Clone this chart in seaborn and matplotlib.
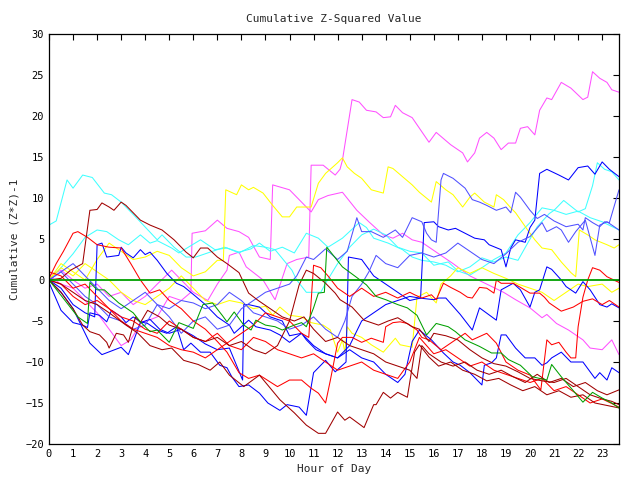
import pandas as pd
import matplotlib
matplotlib.use("Agg")
from matplotlib import pyplot as plt
import seaborn as sns

# (hour, cumulative value) pairs, one list per trace
magenta_a = [(0,0.5),(0.5,1.2),(1,0),(1.5,-1),(2,-0.5),(2.5,-2),(3,-1.5),(3.5,-3),(4,-2),(4.5,-0.5),(5.1,1.2),(5.5,0),(6,-1.5),(6.6,-2.5),(7,-0.5),(7.4,1.2),(7.5,3.0),(7.9,3.4),(8.2,1.6),(8.9,0),(9.4,-2.4),(9.9,2),(10.3,2.5),(10.8,2.8),(10.9,14),(11.4,14),(11.9,12.8),(12.1,13.5),(12.2,14.6),(12.6,22),(12.9,21.7),(13.2,20.7),(13.6,20.5),(13.9,19.8),(14.2,19.9),(14.4,21.3),(14.7,20.4),(15.1,19.8),(15.8,16.8),(16.1,18),(16.7,16.5),(17.2,15.5),(17.4,14.4),(17.7,15.5),(17.9,17.3),(18.2,18),(18.5,17.3),(18.8,15.9),(19.1,16.7),(19.4,16.7),(19.6,18.5),(19.9,18.7),(20.2,17.7),(20.4,20.7),(20.7,22.2),(20.9,22),(21.3,24.1),(21.7,23.4),(22.2,22),(22.4,22.3),(22.6,25.4),(22.9,24.6),(23.2,24.1),(23.4,23.2),(23.7,22.9)]
magenta_b = [(0,0.5),(0.5,-0.5),(1,-1),(1.5,-2.5),(2,-4),(2.5,-6),(3,-8),(3.4,-7.3),(3.8,-5.3),(4.5,-4.5),(5,-2),(5.5,-2.5),(5.9,-1.5),(5.95,5.7),(6.5,6.0),(7,7.3),(7.4,6.3),(7.9,5.9),(8.3,5.2),(8.75,2.8),(9.2,2.5),(9.3,11.6),(10,11),(10.9,8.3),(11.2,9.8),(11.6,10.3),(12.2,10.7),(12.8,8.5),(13.3,7.1),(13.9,5.5),(14.3,5.1),(14.7,5.7),(15.1,4.9),(15.5,4.6),(16.2,3.2),(16.8,2),(17.5,0.5),(18.2,-0.5),(18.9,-1.5),(19.4,-2.4),(20,-3.4),(20.5,-4.6),(20.7,-4.2),(21.1,-5.3),(21.6,-6.1),(22.2,-7.3),(22.5,-8.3),(23,-8.5),(23.4,-7.3),(23.7,-9.1)]
cyan_a = [(0,6.7),(0.3,7.2),(0.75,12.2),(1,11.2),(1.4,12.8),(1.8,12.5),(2.3,10.6),(2.6,10.4),(3,9.5),(3.6,7.7),(4.5,4.9),(4.7,5.5),(5.2,4),(5.7,2.8),(6.1,2.8),(7,3.7),(7.3,4),(7.9,3.4),(8.4,3.8),(8.75,4.5),(9.2,3.5),(9.7,4),(10.2,3.3),(10.7,5.7),(11.2,5.1),(11.6,4),(12.2,5.1),(12.9,7),(13.2,6.4),(13.5,5.1),(14.1,4.5),(14.7,3.7),(15.1,2.8),(15.5,2.4),(16,2.2),(16.5,1.8),(17,1),(17.5,1.6),(18,2.7),(18.5,2.2),(19,2.8),(19.5,2.4),(20,5),(20.3,6.5),(20.8,8.1),(21,8.5),(21.4,9.7),(22,8.3),(22.3,8.7),(22.6,11.5),(22.8,14.3),(23.1,13.5),(23.4,13.2),(23.7,12.2)]
cyan_b = [(0,0),(0.5,1.5),(1,3.2),(1.5,5.2),(2,6.1),(2.4,5.9),(2.9,4.9),(3.3,4.3),(3.8,5.5),(4.2,4.5),(4.5,4.8),(5.1,3.9),(5.4,3.3),(6.3,4.9),(6.9,3.7),(7.4,3.9),(7.9,3.3),(8.5,4.2),(9,4),(9.4,3.7),(10.1,1.2),(10.3,0),(10.7,-1.5),(11.3,-1.5),(11.5,-0.4),(12,2),(12.5,4),(13,5.5),(13.5,6.2),(14,5.5),(14.5,4),(15,3.5),(15.5,3.3),(16,1.8),(16.6,2.2),(17,1.1),(17.5,0.6),(18,1.5),(18.5,2.5),(19,3.3),(19.5,5.5),(20,7),(20.5,8.8),(21,8.5),(21.5,8),(22,8.4),(22.5,7.6),(23,7.1),(23.7,6.1)]
yellow_a = [(0,0),(0.5,2),(1,1),(1.5,0),(2,2.5),(2.5,4.5),(3,3.5),(3.5,2.5),(4,2.8),(4.5,3.5),(5,3),(5.5,1.5),(6,0.5),(6.5,1),(7,2.4),(7.25,2.4),(7.35,11),(7.8,10.4),(8,11.6),(8.3,11),(8.5,11.3),(8.9,10.6),(9.3,9.1),(9.7,7.7),(10,7.7),(10.3,8.9),(10.9,8.9),(11.2,11.8),(11.5,13),(12,14.3),(12.2,14.9),(12.4,13.8),(12.7,13),(13,12.4),(13.4,11),(13.9,10.6),(14.1,13.8),(14.3,13.6),(14.7,12.6),(15.1,11.6),(15.4,10.7),(15.9,9.5),(16.1,12),(16.5,11),(16.8,10.4),(17.2,8.9),(17.5,10.1),(17.7,10.6),(18.1,9.5),(18.5,8.9),(18.6,10.4),(18.9,9.8),(19.2,8.8),(19.4,8.2),(19.9,6.1),(20.2,4.9),(20.5,3.9),(20.9,3.7),(21.3,2.2),(21.7,0.9),(21.9,0.4),(22.05,6.1),(22.4,5.5),(22.7,4.9),(23.2,4.3),(23.5,3.9),(23.7,4.3)]
yellow_b = [(0,0),(0.5,1.5),(1,0.5),(1.5,2),(2,1),(2.5,0),(3,-1.5),(3.5,-2.5),(4,-3),(4.5,-2),(5,-1),(5.5,0.5),(6,-1),(6.5,-2.5),(7,-3),(7.5,-2.5),(8,-2.8),(8.5,-3.5),(9,-3.2),(9.3,-4.3),(9.6,-3.3),(10,-4.3),(10.5,-4.5),(10.9,-5.2),(11.4,-5.5),(11.7,-6.1),(12,-8.8),(12.2,-7.3),(12.3,-8.8),(12.4,-5.7),(12.6,-6.5),(13,-7),(13.4,-7.9),(13.9,-8.8),(14.4,-7.1),(14.6,-7.9),(15.1,-8.2),(15.3,-2.1),(15.7,-1.5),(16.1,-2.8),(16.3,-0.5),(16.7,0.5),(17,1.5),(17.5,0.8),(18,1.5),(18.5,0.8),(19,0.2),(19.5,-0.5),(20,-1),(20.5,-1.5),(21,-2.5),(21.5,-1.5),(22,-0.5),(22.4,-0.8),(23,-0.5),(23.4,-1.5),(23.7,-1)]
blue_a = [(0,-0.3),(0.5,-3.7),(1,-5.2),(1.4,-5.5),(1.6,-5.8),(1.7,-4),(2.1,-4.3),(2.4,-5.1),(2.6,-3.7),(3,-4.5),(3.2,-5.2),(3.5,-4.5),(3.8,-5.1),(4.1,-5.3),(4.5,-6.1),(4.9,-6.5),(5.3,-5.7),(5.6,-8.5),(5.9,-7.7),(6.3,-8.8),(6.7,-8.8),(7.1,-10.4),(7.4,-10.7),(7.6,-11.8),(7.9,-13),(8.3,-12.8),(8.75,-13.8),(9.1,-15),(9.6,-15.9),(9.9,-15.2),(10.4,-15.5),(10.7,-16.5),(11,-11.3),(11.5,-9.8),(11.9,-11.2),(12.35,-10),(12.45,2.8),(13,2.5),(13.5,0.5),(14,-0.5),(14.5,-1.5),(15,-2.5),(15.45,-2.2),(15.6,7),(16,7.1),(16.2,6.5),(16.6,6.1),(16.9,6.3),(17.3,5.7),(17.7,5.1),(18.1,4.9),(18.3,4.3),(18.8,3.7),(19,1.6),(19.2,3.9),(19.4,4.9),(19.8,4.6),(20,6.4),(20.2,7.3),(20.4,13),(20.7,13.5),(21.2,12.8),(21.6,12.2),(22,13.7),(22.4,13.9),(22.7,12.9),(23,14.4),(23.3,13.5),(23.7,12.6)]
blue_b = [(0,0),(0.5,-1.5),(1,-3.5),(1.7,-7.7),(2.2,-9.1),(3,-8.2),(3.3,-9.1),(3.8,-5.2),(4.2,-4.8),(4.6,-6),(5,-6.5),(5.5,-6),(6,-6.8),(6.5,-7.8),(7,-8.5),(7.5,-8.3),(8.05,-12.2),(8.1,-3),(8.3,-3),(8.75,-3.3),(9.2,-4.5),(9.7,-5),(10,-6.8),(10.5,-6.5),(11,-8),(11.5,-9),(12,-9.5),(12.5,-8.5),(13,-9.5),(13.5,-10),(14,-11.5),(14.5,-12.5),(14.8,-11.5),(15.1,-7.5),(15.4,-6.1),(15.9,-7.3),(16.4,-8.9),(16.8,-10),(17.1,-10.4),(17.5,-11.3),(18,-12.8),(18.1,-10.4),(18.4,-10.1),(18.6,-9.5),(18.8,-6.7),(19,-6.7),(19.4,-8.3),(19.8,-9.5),(20.2,-9.5),(20.5,-10.4),(20.7,-10.1),(20.9,-9.5),(21.3,-8.8),(21.7,-10),(22.2,-10),(22.7,-12),(22.9,-11.3),(23.2,-12.2),(23.4,-10.7),(23.7,-11.3)]
blue_c = [(0,0),(0.5,-1),(1,-3),(1.5,-4),(1.9,-4.5),(2,4.3),(2.2,4.5),(2.4,2.8),(2.9,3),(3,4),(3.2,3.3),(3.5,2.7),(3.8,3.7),(4,3.1),(4.2,3.4),(4.5,2.4),(4.9,0.8),(5.3,-0.4),(5.6,-0.8),(6.1,-2),(6.5,-3),(7,-4.5),(7.5,-5.5),(7.7,-6.5),(8.3,-4.9),(8.6,-5.7),(9.2,-6.1),(9.6,-6.7),(10,-7.6),(10.5,-6.5),(10.7,-7.3),(11.1,-8.5),(11.5,-9),(12,-9.5),(12.5,-8),(13,-5),(13.5,-4),(14,-3),(14.5,-2.5),(15,-2),(15.4,-2.2),(16,-2.4),(16.2,-2.2),(16.5,-2.2),(17.1,-4.2),(17.6,-6.1),(17.9,-3.4),(18.6,-4.9),(18.8,-1.2),(19.3,-0.4),(19.6,-1.2),(20,-3.3),(20.2,-1.5),(20.4,-1.2),(20.7,1.6),(20.9,1.3),(21.3,0),(21.5,-0.8),(21.9,-1.6),(22.2,-0.2),(22.5,-1.2),(22.9,-3),(23.2,-3.3),(23.4,-2.9),(23.7,-3.4)]
slate_a = [(0,0),(0.5,1),(1,-0.5),(1.5,-2),(2,-3),(2.5,-4.5),(3,-5),(3.5,-6),(4,-5.5),(4.5,-3),(5,-4.5),(5.5,-6.5),(6,-5),(6.5,-4.5),(7,-6),(7.5,-5.5),(8,-3.5),(8.5,-2.5),(9,-1.5),(9.5,-1),(10,-0.5),(10.3,0.5),(10.7,2.8),(11,2.5),(11.5,3.8),(12,2.5),(12.4,3.5),(12.8,7.6),(13,5.9),(13.4,5.9),(13.9,5.2),(14.4,6.1),(14.7,5.2),(15.1,7.6),(15.5,7.1),(15.7,5.7),(15.9,4.9),(16.1,4.6),(16.3,12.2),(16.4,13),(16.8,12.4),(17.3,11.2),(17.6,9.8),(17.9,9.5),(18.2,9.1),(18.6,8.5),(19,8.9),(19.2,8.2),(19.4,10.7),(19.6,10.1),(20,8.5),(20.3,7.5),(20.6,8),(21,7.2),(21.5,6.5),(22,6.8),(22.2,6.1),(22.3,7.6),(22.6,7),(22.9,6.5),(23.1,7.1),(23.3,7),(23.6,10),(23.7,11)]
slate_b = [(0,0),(0.5,1),(1,2),(1.5,0.5),(2,-1),(2.5,-2.5),(3,-3.5),(3.5,-2.5),(4,-1.5),(4.5,-3),(5,-3.5),(5.5,-2.5),(6,-2.8),(6.5,-3.5),(7,-3),(7.5,-1.5),(8,-2.5),(8.5,-4),(9,-4.5),(9.5,-5),(10,-6),(10.5,-5.5),(11,-4.5),(11.5,-6),(12,-7),(12.3,-5),(12.6,-2),(13,-0.5),(13.3,1),(13.6,3),(14,2),(14.5,1.5),(15,3),(15.5,3.3),(16,2.8),(16.5,3.3),(17,4.5),(17.5,3.5),(18,2.5),(18.5,2),(19,3.2),(19.5,4.6),(20,5.3),(20.5,7),(20.7,5.9),(21.1,6.5),(21.3,6.1),(21.6,4.6),(21.9,5.9),(22.3,7.3),(22.7,3),(22.9,6.7),(23.2,7.1),(23.7,6.1)]
red_a = [(0,0.2),(0.3,2),(0.6,3.5),(1,5.7),(1.2,5.9),(1.6,5.2),(2,4.3),(2.5,4),(3,3.9),(3.4,2),(3.8,0),(4.2,-1.6),(4.6,-1.2),(5,-2.5),(5.5,-3.5),(6,-5),(6.5,-6),(7,-7.5),(7.4,-8.8),(7.9,-11.3),(8.3,-12),(8.75,-11.6),(9.5,-13),(10,-12.2),(10.5,-12.2),(10.9,-13.2),(11.2,-13.8),(11.5,-15),(11.7,-12.2),(12,-7.7),(12.2,-7),(12.6,-7),(13,-7.6),(13.4,-7.1),(13.9,-7.6),(14,-5.7),(14.3,-5.2),(14.6,-5.1),(14.9,-5.3),(15.3,-6.1),(15.5,-7),(15.8,-7.3),(16.3,-8.5),(16.8,-7.5),(17.3,-6.5),(17.6,-7.3),(18.2,-6.5),(18.6,-7.7),(19,-10),(19.5,-11),(20,-11.6),(20.45,-13.4),(20.7,-7.3),(20.9,-7.9),(21.2,-7.6),(21.5,-8.8),(21.7,-9.5),(21.9,-9.5),(22,-5.7),(22.2,-2.1),(22.4,0),(22.6,1.5),(22.9,1.2),(23.2,0.4),(23.7,-0.3)]
red_b = [(0,0),(0.5,-0.5),(1,-2),(1.5,-3),(2,-2.5),(2.5,-3.5),(3,-5),(3.5,-6),(4,-6.5),(4.5,-7),(5,-8),(5.5,-8.5),(6,-8.8),(6.5,-9.5),(7,-8.5),(7.5,-7.5),(8,-6.5),(8.5,-5.5),(9,-4),(9.5,-4.5),(10,-5),(10.5,-6.5),(10.8,-7),(11,1.8),(11.3,1.5),(11.6,0.5),(12,-1),(12.5,-2),(13,-1),(13.5,-2),(14,-1.5),(14.5,-2.2),(15,-1.5),(15.2,-1.8),(15.5,-2.2),(15.9,-1.8),(16.1,-2.4),(16.4,-0.4),(16.7,-0.9),(17.1,-1.5),(17.4,-2.1),(17.6,-2.2),(17.9,-0.9),(18.2,-1),(18.5,-1.6),(18.6,0),(18.8,-0.4),(19.3,-0.4),(19.6,-0.9),(20,-1.6),(20.4,-1.6),(20.6,-2.1),(20.8,-2.8),(21.3,-3.8),(21.8,-3.3),(22.2,-2.6),(22.6,-2.3),(23,-3),(23.3,-2.5),(23.7,-3.3)]
red_c = [(0,1),(0.5,0.5),(1,-1),(1.5,-0.5),(2,-2),(2.5,-3.5),(3,-4.5),(3.5,-5),(4,-6),(4.5,-6.5),(5,-5),(5.5,-6),(6,-7),(6.5,-7.5),(7,-6.5),(7.5,-8),(8,-8.5),(8.5,-7),(9,-7.5),(9.5,-8.5),(10,-9),(10.5,-9.5),(11,-9),(11.5,-10),(12,-11),(12.5,-10.5),(13,-10),(13.5,-11),(14,-11.5),(14.5,-12),(15,-10),(15.4,-7),(16,-9),(16.5,-8.5),(17,-9.5),(17.5,-10.5),(18,-10),(18.5,-11),(19,-11.5),(19.5,-12),(20,-12.5),(20.5,-12),(21,-13.5),(21.5,-13),(22,-14),(22.5,-15),(23,-14.5),(23.7,-15.5)]
darkred_a = [(0,0),(0.5,0.2),(0.9,1.2),(1.4,2),(1.7,8.5),(2,8.6),(2.2,9.4),(2.5,8.9),(2.7,8.5),(3,9.5),(3.2,9.1),(3.8,7.3),(4.2,6.7),(4.7,6.1),(5.2,4.9),(5.7,3.4),(6,2.7),(6.3,3.9),(6.6,3.9),(7,2.8),(7.4,2),(7.9,0.9),(8.3,-1.6),(8.7,-2.5),(9.2,-3.5),(9.7,-4.5),(10.2,-5),(10.6,-4.5),(11,-6),(11.5,-7.5),(12,-7),(12.5,-8),(13,-8.5),(13.5,-9),(14,-10),(14.5,-10.5),(15,-11),(15.3,-12),(15.5,-8),(15.8,-9),(16.3,-10),(16.8,-10.5),(17.3,-10),(17.8,-11),(18.3,-11.5),(18.8,-11),(19.3,-11.8),(19.8,-12.5),(20.3,-11.5),(20.8,-12.5),(21.3,-12),(21.8,-13),(22.3,-12.5),(22.8,-13.5),(23.2,-14),(23.7,-13.4)]
darkred_b = [(0,0),(0.5,-1.5),(1,-3.5),(1.4,-5.5),(1.7,-6.3),(2.1,-6.7),(2.4,-7.6),(2.5,-8.3),(2.8,-6.5),(3.1,-6.7),(3.3,-7.6),(3.6,-4.5),(3.8,-5.2),(4.1,-3.7),(4.6,-4.5),(5,-5.5),(5.5,-6),(6,-7),(6.5,-7.5),(7,-7),(7.5,-8),(8,-7.5),(8.5,-8.5),(9,-9),(9.5,-8),(10,-5),(10.4,-0.6),(10.7,1.2),(11,0.8),(11.5,-0.4),(11.9,-1.6),(12.1,-2.4),(12.6,-3.3),(13.1,-4.9),(13.7,-5.5),(14.1,-5),(14.5,-4.6),(15.1,-5.7),(15.4,-6),(15.8,-7.5),(16,-6.5),(16.5,-6.8),(17,-7.3),(17.5,-8.5),(18,-9.5),(18.5,-10.2),(19,-10.5),(19.5,-11.2),(20,-12),(20.5,-12.3),(21,-12.5),(21.5,-12),(22,-13),(22.5,-14),(23,-14.5),(23.4,-14.8),(23.7,-15.2)]
darkred_c = [(0,0),(0.5,-0.5),(1,-1.5),(1.5,-2.5),(2,-3),(2.5,-4),(3.2,-5.5),(3.7,-6.5),(4.2,-8),(4.7,-8.5),(5.1,-8.3),(5.6,-9.8),(6.2,-10.3),(6.7,-11),(7.1,-10),(7.5,-11.6),(8.1,-13),(8.75,-11.6),(9.6,-14.6),(10.2,-16.2),(10.7,-17.7),(11.2,-18.7),(11.5,-18.7),(12,-16.1),(12.3,-17.1),(12.5,-16.7),(13.1,-18),(13.5,-15.2),(13.6,-15.2),(13.9,-13.7),(14.2,-14.4),(14.5,-13.7),(14.9,-14.3),(15.2,-8.8),(15.4,-7.9),(15.8,-9.4),(16.2,-10.5),(16.7,-10),(17.2,-11),(17.7,-11.5),(18.2,-12.3),(18.7,-12),(19.2,-12.8),(19.7,-13.5),(20.2,-13),(20.7,-14),(21.2,-13.5),(21.7,-14.3),(22.2,-14),(22.7,-15),(23.2,-15.3),(23.7,-15.6)]
green_a = [(0,0),(0.4,-1.5),(0.8,-3),(1.2,-4.5),(1.6,-5.3),(1.7,-0.3),(2,-1.2),(2.3,-1.2),(2.9,-2.8),(3.5,-4),(3.8,-5.1),(4.2,-6.3),(4.5,-6.1),(5,-7.6),(5.4,-5.2),(6,-5.9),(6.4,-3),(6.8,-2.8),(7.2,-4.3),(7.4,-5.1),(7.7,-3.9),(8.1,-5.5),(8.4,-6.1),(8.6,-4.9),(9,-5.5),(9.4,-5.7),(9.7,-6.1),(10.2,-5.5),(10.5,-5.2),(10.7,-5.7),(11,-3.4),(11.2,-1.6),(11.45,-1.5),(11.55,4),(12.2,1.6),(12.8,0.3),(13.2,-0.6),(13.6,-2),(14,-2.4),(14.5,-3),(14.9,-3.4),(15.3,-4.3),(15.7,-6.7),(16.1,-5.3),(16.6,-5.7),(16.9,-6.3),(17.3,-7.3),(17.9,-8.1),(18.4,-8.9),(18.8,-8.9),(19.1,-9.7),(19.6,-10.4),(20.1,-11.8),(20.7,-12.2),(20.9,-10.3),(21.3,-11.8),(21.8,-13.5),(22.2,-14.9),(22.6,-13.7),(23,-14.4),(23.4,-15),(23.7,-15.6)]

traces = {
    "magenta_a": (magenta_a, "#ff50ff"), "magenta_b": (magenta_b, "#ff50ff"),
    "cyan_a": (cyan_a, "#40ffff"), "cyan_b": (cyan_b, "#40ffff"),
    "yellow_a": (yellow_a, "#ffff00"), "yellow_b": (yellow_b, "#ffff00"),
    "blue_a": (blue_a, "#0000ff"), "blue_b": (blue_b, "#0000ff"), "blue_c": (blue_c, "#0000ff"),
    "slate_a": (slate_a, "#5050ff"), "slate_b": (slate_b, "#5050ff"),
    "red_a": (red_a, "#ff0000"), "red_b": (red_b, "#ff0000"), "red_c": (red_c, "#ff0000"),
    "darkred_a": (darkred_a, "#a00000"), "darkred_b": (darkred_b, "#a00000"), "darkred_c": (darkred_c, "#a00000"),
    "green_a": (green_a, "#00a000"),
}

rows = []
for name, (pts, col) in traces.items():
    for h, v in pts:
        rows.append({"trace": name, "hour": h, "value": v})
df = pd.DataFrame(rows)
palette = {name: col for name, (pts, col) in traces.items()}

sns.set_style("white")
plt.rcParams['font.family'] = ['DejaVu Sans Mono']

fig = plt.figure(figsize=(6.4, 4.8), dpi=100)
ax = fig.add_axes([49/640, 36/480, 570/640, 410/480])
sns.lineplot(data=df, x="hour", y="value", hue="trace", palette=palette,
             estimator=None, sort=False, legend=False, linewidth=0.75, ax=ax)
ax.axhline(0, color="#00a000", linewidth=1.3)

ax.set_xlim(0, 23.7)
ax.set_ylim(-20, 30)
ax.set_xticks(range(0, 24))
ax.set_yticks(range(-20, 31, 5))
ax.tick_params(direction="in", top=True, right=True, length=4, width=0.8,
               labelsize=7.5, colors="black")
for s in ax.spines.values():
    s.set_color("black")
    s.set_linewidth(0.9)
ax.set_title("Cumulative Z-Squared Value", fontsize=8, pad=9)
ax.set_xlabel("Hour of Day", fontsize=8, labelpad=4)
ax.set_ylabel("Cumulative (Z*Z)-1", fontsize=8, labelpad=4)

fig.savefig("out.png", dpi=100)
